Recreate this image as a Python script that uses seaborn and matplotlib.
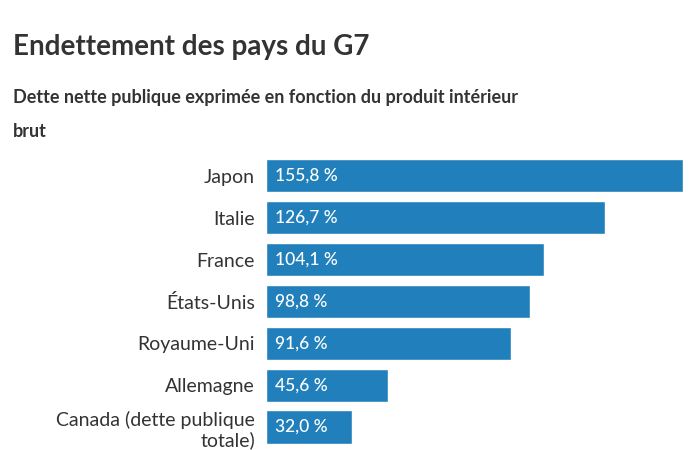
import matplotlib
matplotlib.use("Agg")
import matplotlib.pyplot as plt
import seaborn as sns
import pandas as pd

countries = ["Japon", "Italie", "France", "États-Unis", "Royaume-Uni", "Allemagne",
             "Canada (dette publique\ntotale)"]
values = [155.8, 126.7, 104.1, 98.8, 91.6, 45.6, 32.0]
value_labels = ["155,8 %", "126,7 %", "104,1 %", "98,8 %", "91,6 %", "45,6 %", "32,0 %"]

title = "Endettement des pays du G7"
subtitle_1 = "Dette nette publique exprimée en fonction du produit intérieur"
subtitle_2 = "brut"

BAR = "#2180bb"
TXT = "#333333"

sns.set_theme(style="white")
plt.rcParams["font.family"] = ["Lato", "DejaVu Sans"]

df = pd.DataFrame({"pays": countries, "valeur": values})

fig = plt.figure(figsize=(7, 4.5), dpi=100)
ax = fig.add_axes([0.38, 0.0046, 0.595, 0.651])
sns.barplot(data=df, x="valeur", y="pays", orient="h", color=BAR, saturation=1,
            width=0.79, ax=ax, order=countries)

ax.set_xlim(0, max(values))
ax.set_ylim(len(countries) - 0.5, -0.5)
ax.set_xlabel("")
ax.set_ylabel("")
ax.set_xticks([])
for s in ax.spines.values():
    s.set_visible(False)
ax.tick_params(axis="y", length=0, pad=8, labelsize=14, labelcolor=TXT)
for lab in ax.get_yticklabels():
    lab.set_horizontalalignment("right")
    lab.set_multialignment("right")
    lab.set_color(TXT)
    lab.set_fontweight("normal")

for i, (v, t) in enumerate(zip(values, value_labels)):
    ax.annotate(t, xy=(0, i), xytext=(6.5, 0), textcoords="offset points",
                ha="left", va="center", color="white", fontsize=12.5,
                fontweight="medium")

fig.text(0.019, 0.878, title, fontsize=20, fontweight="bold", color=TXT, ha="left", va="baseline")
fig.text(0.019, 0.771, subtitle_1, fontsize=13, fontweight="bold", color=TXT, ha="left", va="baseline")
fig.text(0.019, 0.696, subtitle_2, fontsize=13, fontweight="bold", color=TXT, ha="left", va="baseline")

fig.savefig("out.png", dpi=100, facecolor="white")
